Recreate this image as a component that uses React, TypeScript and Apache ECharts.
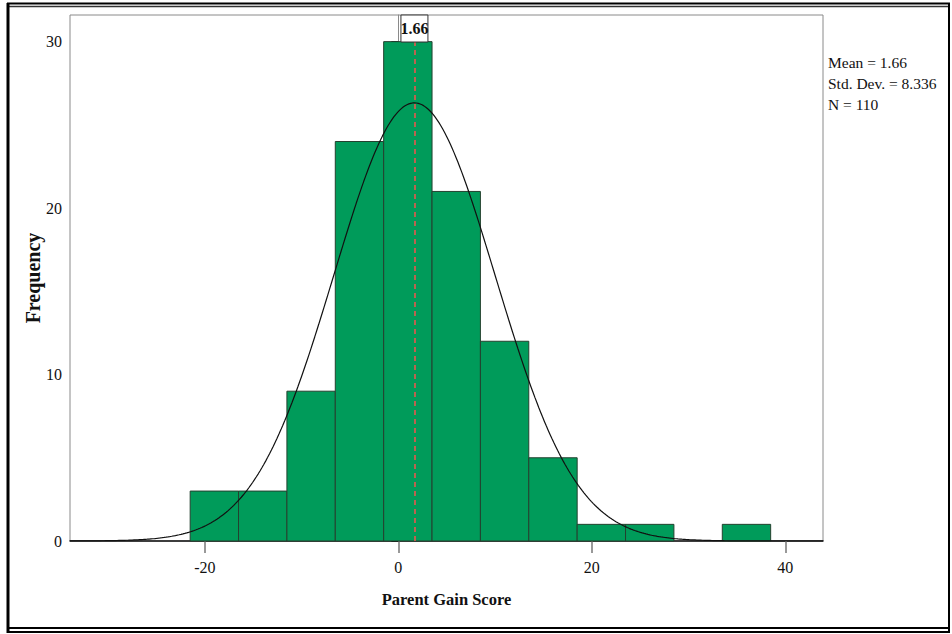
import React, { useEffect, useRef } from "react";
import * as echarts from "echarts";

// Histogram bins (Parent Gain Score), width 5
const binStart = -21.52;
const binWidth = 5;
const binCounts = [3, 3, 9, 24, 30, 21, 12, 5, 1, 1, 0, 1];

// Summary statistics
const meanValue = 1.66;
const stdDev = 8.336;
const nCount = 110;

// Axes
const xMin = -33.94;
const xMax = 43.89;
const xTickValues = [-20, 0, 20, 40];
const yMin = 0;
const yMax = 31.6;
const yInterval = 10;

const statLines = ["Mean = 1.66", "Std. Dev. = 8.336", "N = 110"];

const SERIF = '"Liberation Serif", "Times New Roman", serif';

function frameLine(x1: number, y1: number, x2: number, y2: number, w: number, color = "#000") {
  return {
    type: "line",
    silent: true,
    z: 100,
    shape: { x1, y1, x2, y2 },
    style: { stroke: color, lineWidth: w },
  };
}

export default function App() {
  const ref = useRef<HTMLDivElement>(null);

  useEffect(() => {
    if (!ref.current) return;
    const chart = echarts.init(ref.current, undefined, { renderer: "svg" });

    const bins = binCounts.map((c, i) => [
      binStart + i * binWidth,
      binStart + (i + 1) * binWidth,
      c,
    ]);

    // Fitted normal curve from the stated mean, SD and N
    const curve: number[][] = [];
    const steps = 400;
    for (let i = 0; i <= steps; i++) {
      const x = xMin + ((xMax - xMin) * i) / steps;
      const z = (x - meanValue) / stdDev;
      const y =
        ((nCount * binWidth) / (stdDev * Math.sqrt(2 * Math.PI))) *
        Math.exp(-0.5 * z * z);
      curve.push([x, y]);
    }

    chart.setOption({
      animation: false,
      grid: {
        left: 70,
        top: 15,
        right: 129,
        bottom: 93,
        show: true,
        borderColor: "#8a8a8a",
        borderWidth: 1,
        backgroundColor: "transparent",
      },
      xAxis: {
        type: "value",
        min: xMin,
        max: xMax,
        name: "Parent Gain Score",
        nameLocation: "middle",
        nameGap: 50,
        nameTextStyle: {
          fontFamily: SERIF,
          fontWeight: "bold",
          fontSize: 16.5,
          color: "#111",
        },
        splitLine: { show: false },
        axisLine: { show: true, onZero: false, lineStyle: { color: "#111", width: 1.5 } },
        axisTick: {
          show: true,
          length: 12,
          customValues: xTickValues,
          lineStyle: { color: "#777", width: 1.5 },
        },
        axisLabel: {
          customValues: xTickValues,
          margin: 18,
          fontFamily: SERIF,
          fontSize: 16,
          color: "#111",
        },
      },
      yAxis: {
        type: "value",
        min: yMin,
        max: yMax,
        interval: yInterval,
        name: "Frequency",
        nameLocation: "middle",
        nameGap: 27,
        nameMoveOverlap: false,
        nameTextStyle: {
          fontFamily: SERIF,
          fontWeight: "bold",
          fontSize: 20,
          color: "#111",
        },
        splitLine: { show: false },
        axisLine: { show: true, lineStyle: { color: "#8a8a8a", width: 1 } },
        axisTick: { show: true, length: 7, lineStyle: { color: "#111", width: 1 } },
        axisLabel: {
          margin: 8,
          fontFamily: SERIF,
          fontSize: 16,
          color: "#111",
          showMaxLabel: false,
        },
      },
      series: [
        {
          type: "custom",
          z: 1,
          data: bins,
          renderItem: (params: any, api: any) => {
            if (api.value(2) <= 0) return null;
            const p0 = api.coord([api.value(0), 0]);
            const p1 = api.coord([api.value(1), api.value(2)]);
            return {
              type: "rect",
              shape: {
                x: p0[0],
                y: p1[1],
                width: p1[0] - p0[0],
                height: p0[1] - p1[1],
              },
              style: {
                fill: "#009b5a",
                stroke: "#24412f",
                lineWidth: 1,
              },
            };
          },
        },
        {
          type: "line",
          z: 3,
          data: curve,
          showSymbol: false,
          symbol: "none",
          smooth: false,
          lineStyle: { color: "#111", width: 1.2 },
          silent: true,
          markLine: {
            silent: true,
            symbol: ["none", "none"],
            label: { show: false },
            lineStyle: { color: "#e8574f", type: [5, 4], width: 1.6 },
            data: [{ xAxis: meanValue }],
          },
        },
        {
          type: "scatter",
          z: 5,
          data: [],
          markPoint: {
            silent: true,
            symbol: "rect",
            symbolSize: [27, 27],
            symbolOffset: [0, 13.5],
            itemStyle: { color: "#fff", borderColor: "#333", borderWidth: 1 },
            label: {
              show: true,
              position: "inside",
              formatter: String(meanValue),
              fontFamily: SERIF,
              fontWeight: "bold",
              fontSize: 16,
              color: "#111",
            },
            data: [{ coord: [meanValue, yMax] }],
          },
        },
      ],
      graphic: [
        frameLine(7, 3.5, 950, 3.5, 2),
        frameLine(7, 6.5, 950, 6.5, 1.5, "#333"),
        frameLine(8, 3, 8, 633, 3),
        frameLine(949, 3, 949, 633, 2),
        frameLine(7, 628, 950, 628, 2),
        frameLine(7, 632, 950, 632, 2),
        {
          type: "text",
          left: 828,
          top: 52,
          style: {
            text: statLines.join("\n"),
            fontFamily: SERIF,
            fontSize: 15.5,
            lineHeight: 21,
            fill: "#111",
          },
        },
      ],
    });

    return () => chart.dispose();
  }, []);

  return (
    <div
      ref={ref}
      style={{ position: "fixed", left: 0, top: 0, width: 952, height: 634, background: "#fff" }}
    />
  );
}
